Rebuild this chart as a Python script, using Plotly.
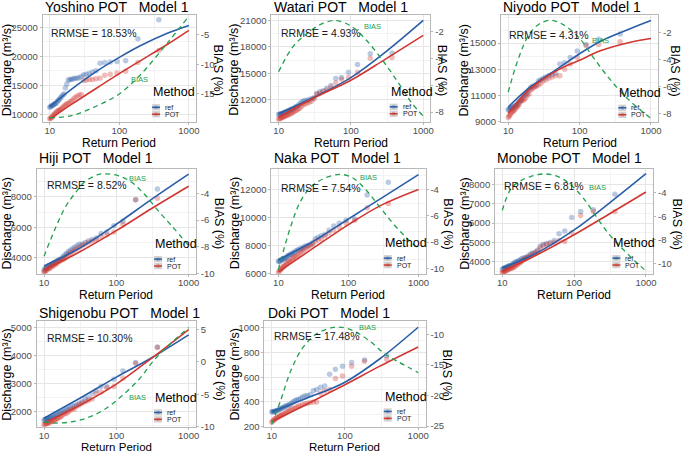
import plotly.graph_objects as go

W, H = 685, 457

# ---------------- data ----------------
return_period = [370, 185, 123.3, 92.5, 74, 61.7, 52.9, 46.3, 41.1, 37, 33.6, 30.8, 28.5, 26.4,
                 24.7, 23.1, 21.8, 20.6, 19.5, 18.5, 17.6, 16.8, 16.1, 15.4, 14.8, 14.2, 13.7,
                 13.2, 12.8, 12.3, 11.9, 11.6, 11.2, 10.9, 10.6, 10.3, 10.0]

stations = ["Yoshino", "Watari", "Niyodo", "Hiji", "Naka", "Monobe", "Shigenobu", "Doki"]
rrmse = ["18.53%", "4.93%", "4.31%", "8.52%", "7.54%", "6.81%", "10.30%", "17.48%"]
methods = ["ref", "POT"]

yoshino_ref = [26300, 23000, 19200, 19100, 19000, 18900, 18800, 17500, 17300, 17000, 16900, 16800, 16500, 16300, 16200, 16200, 16100, 16000, 16000, 15900, 15200, 14500, 13500, 13300, 13000, 12800, 12500, 12400, 12100, 11900, 11800, 11700, 11600, 11500, 11400, 11300, 11200]
yoshino_pot = [21000, 18900, 17400, 17100, 16900, 16700, 16200, 16100, 16000, 16000, 15900, 15800, 13400, 13300, 13100, 12900, 12600, 12300, 12100, 11900, 11800, 11600, 11400, 11200, 11000, 10800, 10700, 10600, 10500, 10300, 10100, 10000, 9800, 9600, 9400, 9300, 9200]
yoshino_fit_T = [10, 20, 50, 100, 200, 500, 1000]
yoshino_fit_ref = [11300, 14200, 17600, 19800, 21800, 24000, 25300]
yoshino_fit_pot = [9150, 11600, 14700, 17000, 19200, 22100, 24450]
yoshino_bias_T = [10, 20, 50, 100, 200, 500, 1000]
yoshino_bias = [-19.0, -18.7, -16.9, -15.0, -11.8, -6.3, -1.9]

watari_ref = [17300, 17200, 16000, 15100, 14500, 14400, 13600, 13300, 13000, 12900, 12700, 12200, 12100, 12000, 11900, 11900, 11800, 11700, 11500, 11300, 11200, 11100, 11000, 10900, 10900, 10800, 10700, 10700, 10600, 10600, 10500, 10500, 10400, 10400, 10400, 10300, 10300]
watari_pot = [16800, 16700, 15100, 14500, 14300, 13900, 13400, 13100, 12900, 12700, 12600, 12100, 11800, 11700, 11600, 11500, 11400, 11200, 11000, 10900, 10800, 10700, 10600, 10500, 10400, 10400, 10300, 10200, 10200, 10100, 10100, 10000, 10000, 9900, 9900, 9800, 9800]
watari_fit_T = [10, 30, 100, 300, 1000]
watari_fit_ref = [10400, 12200, 14500, 17400, 21000]
watari_fit_pot = [10000, 12150, 14200, 16600, 19300]
watari_bias_T = [10, 16, 27, 41, 62, 100, 160, 270, 450, 690, 1000]
watari_bias = [-5.0, -3.1, -2.0, -1.4, -1.2, -1.6, -2.6, -4.1, -5.8, -7.3, -8.3]

niyodo_ref = [15700, 15300, 14900, 14400, 13900, 13500, 13400, 12700, 12600, 12500, 12400, 12300, 12200, 12100, 11800, 11700, 11700, 11600, 11400, 11200, 11100, 11000, 10900, 10700, 10600, 10500, 10400, 10300, 10200, 10200, 10100, 10100, 10000, 10000, 10000, 9900, 9900]
niyodo_pot = [15100, 14900, 14800, 13900, 13400, 13000, 12500, 12500, 12400, 12300, 12200, 12100, 11900, 11800, 11700, 11600, 11500, 11400, 11100, 11000, 10800, 10700, 10600, 10600, 10500, 10300, 10200, 10100, 10000, 9900, 9800, 9800, 9700, 9600, 9500, 9400, 9300]
niyodo_fit_T = [10, 20, 50, 100, 200, 500, 1000]
niyodo_fit_ref = [10100, 11600, 13070, 14190, 15170, 16090, 16730]
niyodo_fit_pot = [9620, 11470, 12950, 13690, 14430, 15050, 15350]
niyodo_bias_T = [10, 13.7, 18.9, 26, 40, 60, 100, 157, 267, 452, 688, 1000]
niyodo_bias = [-6.4, -4.0, -2.25, -1.4, -1.05, -1.4, -2.4, -3.85, -5.45, -6.8, -7.65, -8.35]

hiji_ref = [8500, 7800, 6400, 6100, 5700, 5600, 5300, 5200, 5100, 5000, 4900, 4900, 4800, 4700, 4600, 4500, 4400, 4300, 4200, 4100, 4000, 3900, 3900, 3800, 3800, 3700, 3700, 3600, 3600, 3500, 3500, 3500, 3400, 3400, 3300, 3300, 3200]
hiji_pot = [7900, 7800, 6200, 5700, 5500, 5400, 5200, 5100, 5000, 4900, 4800, 4700, 4600, 4500, 4400, 4300, 4200, 4100, 4000, 3900, 3900, 3800, 3800, 3700, 3600, 3600, 3500, 3500, 3400, 3400, 3300, 3300, 3300, 3200, 3200, 3100, 3100]
hiji_fit_T = [10, 30, 100, 300, 1000]
hiji_fit_ref = [3480, 4600, 6200, 7800, 9480]
hiji_fit_pot = [3200, 4350, 5780, 7200, 8690]
hiji_bias_T = [10, 14.5, 19.9, 27.3, 37.5, 57, 70.7, 108, 165, 252, 386, 588, 1000]
hiji_bias = [-8.7, -6.55, -5.0, -3.95, -3.1, -2.6, -2.55, -2.7, -3.2, -4.15, -5.35, -6.45, -7.9]

naka_ref = [12500, 11600, 9900, 9800, 9600, 9400, 9100, 8800, 8700, 8600, 8500, 8200, 8100, 8000, 8000, 7900, 7800, 7800, 7700, 7700, 7600, 7500, 7500, 7400, 7400, 7300, 7300, 7200, 7100, 7100, 7100, 7000, 7000, 7000, 6900, 6900, 6900]
naka_pot = [11000, 10700, 9800, 9600, 9300, 9100, 8900, 8700, 8500, 8400, 8300, 8100, 8000, 7900, 7800, 7700, 7600, 7500, 7400, 7300, 7200, 7200, 7100, 7000, 6900, 6900, 6800, 6700, 6700, 6600, 6500, 6500, 6400, 6300, 6300, 6200, 6100]
naka_fit_T = [10, 30, 100, 300, 1000]
naka_fit_ref = [7000, 8250, 9900, 11400, 13050]
naka_fit_pot = [6140, 7750, 9500, 10900, 12000]
naka_bias_T = [10, 14.6, 20.2, 28, 43, 74, 114, 176, 272, 420, 650, 1000]
naka_bias = [-10.1, -7.0, -5.0, -3.9, -3.2, -2.85, -3.1, -4.0, -5.25, -6.5, -7.6, -8.5]

monobe_ref = [7500, 6700, 6600, 6300, 5600, 5450, 5100, 5000, 4950, 4900, 4800, 4600, 4500, 4450, 4400, 4300, 4250, 4200, 4200, 4150, 4100, 4050, 4000, 4000, 3950, 3900, 3850, 3800, 3800, 3800, 3750, 3750, 3700, 3700, 3650, 3650, 3600]
monobe_pot = [6600, 6600, 6400, 5500, 5050, 5100, 5000, 4950, 4900, 4850, 4700, 4550, 4450, 4400, 4300, 4250, 4200, 4150, 4100, 4000, 3950, 3900, 3850, 3800, 3750, 3700, 3700, 3650, 3650, 3600, 3600, 3550, 3550, 3500, 3500, 3450, 3450]
monobe_fit_T = [10, 30, 100, 300, 1000]
monobe_fit_ref = [3690, 4450, 5650, 7000, 8560]
monobe_fit_pot = [3490, 4350, 5400, 6450, 7610]
monobe_bias_T = [10, 13.4, 18.4, 25.2, 38.4, 58.4, 89, 136, 207, 314, 479, 730, 1000]
monobe_bias = [-5.5, -3.6, -2.95, -2.6, -2.4, -2.6, -3.3, -4.5, -6.1, -7.6, -8.8, -9.9, -10.65]

shigenobu_ref = [4300, 3750, 3450, 3150, 2900, 2900, 2750, 2650, 2500, 2450, 2350, 2300, 2250, 2200, 2200, 2150, 2100, 2100, 2050, 2000, 2000, 1950, 1950, 1900, 1900, 1850, 1850, 1800, 1800, 1780, 1770, 1760, 1750, 1740, 1730, 1720, 1700]
shigenobu_pot = [4280, 3720, 3200, 2900, 2850, 2700, 2650, 2450, 2400, 2350, 2300, 2250, 2200, 2100, 2100, 2050, 2000, 1950, 1950, 1900, 1850, 1800, 1800, 1750, 1750, 1700, 1700, 1650, 1650, 1650, 1620, 1600, 1600, 1580, 1570, 1560, 1550]
shigenobu_fit_T = [10, 30, 100, 300, 1000]
shigenobu_fit_ref = [1770, 2450, 3230, 3900, 4730]
shigenobu_fit_pot = [1600, 2200, 2980, 3880, 4920]
shigenobu_bias_T = [10, 14.5, 24.6, 41.8, 71, 120, 205, 346, 588, 1000]
shigenobu_bias = [-9.2, -9.4, -9.2, -8.5, -7.2, -5.2, -2.7, 0.5, 3.0, 5.3]

doki_ref = [775, 740, 720, 690, 665, 625, 530, 520, 500, 490, 460, 450, 450, 440, 430, 420, 415, 410, 400, 390, 380, 375, 370, 365, 360, 355, 350, 345, 340, 335, 330, 330, 325, 325, 320, 320, 320]
doki_pot = [745, 730, 690, 610, 590, 500, 490, 470, 400, 400, 395, 390, 385, 380, 370, 365, 360, 350, 345, 340, 330, 325, 320, 310, 305, 300, 295, 290, 285, 280, 275, 270, 265, 260, 250, 245, 235]
doki_fit_T = [10, 30, 100, 300, 1000]
doki_fit_ref = [320, 430, 560, 750, 1005]
doki_fit_pot = [240, 382, 540, 690, 845]
doki_bias_T = [10, 13.4, 18.4, 26.8, 41.1, 70, 102, 148, 229, 350, 537, 1000]
doki_bias = [-24.7, -20.6, -15.8, -12.1, -9.9, -8.85, -8.95, -9.75, -11.3, -13.2, -14.5, -16.25]

# tick labels
x_ticks = [10, 100, 1000]
left_ticks = [
    [10000, 15000, 20000, 25000],
    [12000, 15000, 18000, 21000],
    [9000, 11000, 13000, 15000],
    [4000, 6000, 8000],
    [6000, 8000, 10000, 12000],
    [4000, 5000, 6000, 7000, 8000],
    [2000, 3000, 4000, 5000],
    [200, 400, 600, 800, 1000],
]
right_ticks = [
    [-15, -10, -5],
    [-8, -6, -4, -2],
    [-8, -6, -4, -2],
    [-10, -8, -6, -4],
    [-10, -8, -6, -4],
    [-10, -8, -6, -4],
    [-10, -5, 0, 5],
    [-25, -20, -15, -10],
]

series = [
    (yoshino_ref, yoshino_pot, yoshino_fit_T, yoshino_fit_ref, yoshino_fit_pot, yoshino_bias_T, yoshino_bias),
    (watari_ref, watari_pot, watari_fit_T, watari_fit_ref, watari_fit_pot, watari_bias_T, watari_bias),
    (niyodo_ref, niyodo_pot, niyodo_fit_T, niyodo_fit_ref, niyodo_fit_pot, niyodo_bias_T, niyodo_bias),
    (hiji_ref, hiji_pot, hiji_fit_T, hiji_fit_ref, hiji_fit_pot, hiji_bias_T, hiji_bias),
    (naka_ref, naka_pot, naka_fit_T, naka_fit_ref, naka_fit_pot, naka_bias_T, naka_bias),
    (monobe_ref, monobe_pot, monobe_fit_T, monobe_fit_ref, monobe_fit_pot, monobe_bias_T, monobe_bias),
    (shigenobu_ref, shigenobu_pot, shigenobu_fit_T, shigenobu_fit_ref, shigenobu_fit_pot, shigenobu_bias_T, shigenobu_bias),
    (doki_ref, doki_pot, doki_fit_T, doki_fit_ref, doki_fit_pot, doki_bias_T, doki_bias),
]

# ---------------- layout geometry (pixels) ----------------
boxes = [
    (43, 197, 15, 123), (273, 433, 15, 123), (504, 662, 15, 123),
    (37, 197, 171, 277), (273, 428, 171, 277), (498, 657, 171, 277),
    (37, 197, 325, 432), (266, 428, 325, 432),
]
left_range = [(8720, 27130), (9490, 21640), (8980, 17170), (2950, 9806),
              (5990, 13440), (3372, 8796), (1448, 5207), (195, 1052)]
right_range = [(-19.67, -1.67), (-8.71, -0.77), (-8.59, -0.65), (-10.02, -2.2),
               (-10.43, -2.45), (-10.9, -1.99), (-10.05, 6.23), (-25.2, -7.88)]
minor_step = [2500, 1500, 1000, 1000, 1000, 500, 500, 100]
title_pos = [(43, 7), (274, 7), (504, 7), (37, 160), (274, 160), (498, 160), (37, 316), (268, 316)]
rrmse_pos = [(49, 33), (281, 33), (510, 35), (45, 187), (281, 190), (505, 188), (45, 342), (274, 340)]
bias_pos = [(140, 80), (375, 27), (604, 41), (138, 180), (371, 179), (601, 190), (138, 402), (370, 331)]
legend_pos = [(152, 93.5), (391, 93), (621, 94), (154, 247), (385, 246), (615, 246), (154, 402), (385, 401)]
ylab_x = [7, 236, 467, 7, 236, 467, 7, 236]
ylab_y = [71, 71, 71, 226, 226, 226, 379, 379]
y2lab_x = [219, 444, 679, 221, 451, 681, 221, 450]
xlab_y = [144.5, 144.5, 144.5, 298.5, 298.5, 298.5, 451.5, 451.5]
xlab_size = [12, 12, 12, 12, 12, 12, 11.5, 11.5]
xtick_standoff = [-2, -2, -2, -2, -2, -2, -3, -3]

FONT = "Liberation Sans, Arial, sans-serif"
BLUE = "#2A5EA6"
RED = "#CF3832"
GREEN = "#22A04F"
BLUE_PT = "rgba(42,94,166,0.33)"
RED_PT = "rgba(207,56,50,0.33)"
GRID = "#E6E6E6"
MINOR = "#F3F3F3"
BORDER = "#B8B8B8"
TICKC = "#4D4D4D"


def px(xp):
    return xp / W


def py(yp):
    return 1 - yp / H


fig = go.Figure()
annotations = []
shapes = []
layout = {}

for k in range(8):
    i = k + 1
    xname = "x" if i == 1 else f"x{i}"
    yl_idx = 2 * i - 1
    yr_idx = 2 * i
    ylname = "y" if yl_idx == 1 else f"y{yl_idx}"
    yrname = f"y{yr_idx}"
    ref_pts, pot_pts, fit_T, fit_ref, fit_pot, b_T, b_vals = series[k]

    fig.add_trace(go.Scatter(x=return_period, y=ref_pts, mode="markers", name="ref",
                             marker=dict(color=BLUE_PT, size=5.5), xaxis=xname, yaxis=ylname,
                             showlegend=False, hoverinfo="skip"))
    fig.add_trace(go.Scatter(x=return_period, y=pot_pts, mode="markers", name="POT",
                             marker=dict(color=RED_PT, size=5.5), xaxis=xname, yaxis=ylname,
                             showlegend=False, hoverinfo="skip"))
    fig.add_trace(go.Scatter(x=fit_T, y=fit_ref, mode="lines", name="ref",
                             line=dict(color=BLUE, width=1.6, shape="spline", smoothing=1.0),
                             xaxis=xname, yaxis=ylname, showlegend=False))
    fig.add_trace(go.Scatter(x=fit_T, y=fit_pot, mode="lines", name="POT",
                             line=dict(color=RED, width=1.6, shape="spline", smoothing=1.0),
                             xaxis=xname, yaxis=ylname, showlegend=False))
    fig.add_trace(go.Scatter(x=b_T, y=b_vals, mode="lines", name="BIAS",
                             line=dict(color=GREEN, width=1.3, dash="5px,4px", shape="spline", smoothing=1.0),
                             xaxis=xname, yaxis=yrname, showlegend=False))

    x0, x1, y0, y1 = boxes[k]
    xkey = "xaxis" if i == 1 else f"xaxis{i}"
    ylkey = "yaxis" if yl_idx == 1 else f"yaxis{yl_idx}"
    yrkey = f"yaxis{yr_idx}"
    tickfont = dict(family=FONT, size=9.5, color=TICKC)

    layout[xkey] = dict(
        type="log", range=[0.9, 3.1], domain=[px(x0), px(x1)], anchor=ylname,
        tickmode="array", tickvals=x_ticks, ticktext=[str(v) for v in x_ticks],
        showgrid=True, gridcolor=GRID, gridwidth=1,
        minor=dict(tickmode="array", tickvals=[31.62, 316.2], showgrid=True, gridcolor=MINOR, ticks=""),
        showline=True, linecolor=BORDER, linewidth=1, mirror=True,
        ticks="outside", ticklen=2, tickcolor=BORDER, tickfont=tickfont, zeroline=False,
        ticklabelstandoff=xtick_standoff[k],
    )
    layout[ylkey] = dict(
        range=list(left_range[k]), domain=[py(y1), py(y0)], anchor=xname,
        tickmode="array", tickvals=left_ticks[k], ticktext=[str(v) for v in left_ticks[k]],
        showgrid=True, gridcolor=GRID, gridwidth=1,
        minor=dict(dtick=minor_step[k], tick0=0, showgrid=True, gridcolor=MINOR, ticks=""),
        showline=True, linecolor=BORDER, linewidth=1, mirror=True,
        ticks="outside", ticklen=2, tickcolor=BORDER, tickfont=tickfont, zeroline=False,
    )
    layout[yrkey] = dict(
        range=list(right_range[k]), overlaying=ylname, side="right", anchor=xname,
        tickmode="array", tickvals=right_ticks[k], ticktext=[str(v) for v in right_ticks[k]],
        showgrid=False, showline=False, zeroline=False,
        ticks="outside", ticklen=2, tickcolor=BORDER, tickfont=tickfont,
    )

    tx, ty = title_pos[k]
    annotations.append(dict(text=f"{stations[k]} POT\u00a0\u00a0\u00a0Model 1", x=px(tx), y=py(ty),
                            xref="paper", yref="paper", xanchor="left", yanchor="middle",
                            showarrow=False, font=dict(family=FONT, size=14, color="#000000")))
    annotations.append(dict(text="Discharge (m\u00b3/s)", x=px(ylab_x[k]), y=py(ylab_y[k]),
                            xref="paper", yref="paper", xanchor="center", yanchor="middle", textangle=-90,
                            showarrow=False, font=dict(family=FONT, size=12.5, color="#000000")))
    annotations.append(dict(text="BIAS (%)", x=px(y2lab_x[k]), y=py(ylab_y[k]),
                            xref="paper", yref="paper", xanchor="center", yanchor="middle", textangle=90,
                            showarrow=False, font=dict(family=FONT, size=12.5, color="#000000")))
    annotations.append(dict(text="Return Period", x=px((x0 + x1) / 2), y=py(xlab_y[k]),
                            xref="paper", yref="paper", xanchor="center", yanchor="middle",
                            showarrow=False, font=dict(family=FONT, size=xlab_size[k], color="#000000")))
    rx, ry = rrmse_pos[k]
    annotations.append(dict(text=f"RRMSE = {rrmse[k]}", x=px(rx), y=py(ry),
                            xref="paper", yref="paper", xanchor="left", yanchor="middle",
                            showarrow=False, font=dict(family=FONT, size=10.5, color="#1A1A1A")))
    bx, by = bias_pos[k]
    annotations.append(dict(text="BIAS", x=px(bx), y=py(by), xref="paper", yref="paper",
                            xanchor="center", yanchor="middle", showarrow=False,
                            font=dict(family=FONT, size=7.5, color=GREEN)))
    lx, ly = legend_pos[k]
    annotations.append(dict(text="Method", x=px(lx), y=py(ly), xref="paper", yref="paper",
                            xanchor="left", yanchor="middle", showarrow=False,
                            font=dict(family=FONT, size=12.5, color="#000000")))
    for j, (mname, lc, pc) in enumerate(zip(methods, [BLUE, RED], [BLUE_PT, RED_PT])):
        cy = ly + 15 + 7 * j
        shapes.append(dict(type="rect", xref="paper", yref="paper",
                           x0=px(lx + 1), x1=px(lx + 9), y0=py(cy + 3.2), y1=py(cy - 3.2),
                           fillcolor="#D3D3D3", line=dict(width=0)))
        shapes.append(dict(type="circle", xref="paper", yref="paper",
                           x0=px(lx + 3), x1=px(lx + 7), y0=py(cy + 2), y1=py(cy - 2),
                           fillcolor=pc, line=dict(width=0)))
        shapes.append(dict(type="line", xref="paper", yref="paper",
                           x0=px(lx + 1), x1=px(lx + 9), y0=py(cy), y1=py(cy),
                           line=dict(color=lc, width=1.5)))
        annotations.append(dict(text=mname, x=px(lx + 12), y=py(cy), xref="paper", yref="paper",
                                xanchor="left", yanchor="middle", showarrow=False,
                                font=dict(family=FONT, size=7, color="#1A1A1A")))

fig.update_layout(
    width=W, height=H,
    margin=dict(l=0, r=0, t=0, b=0),
    paper_bgcolor="white", plot_bgcolor="white",
    showlegend=False, hovermode=False,
    annotations=annotations, shapes=shapes,
    font=dict(family=FONT),
    **layout,
)

fig.write_html("out.html", config={"displayModeBar": False},
               post_script="document.body.style.margin='0px';")
